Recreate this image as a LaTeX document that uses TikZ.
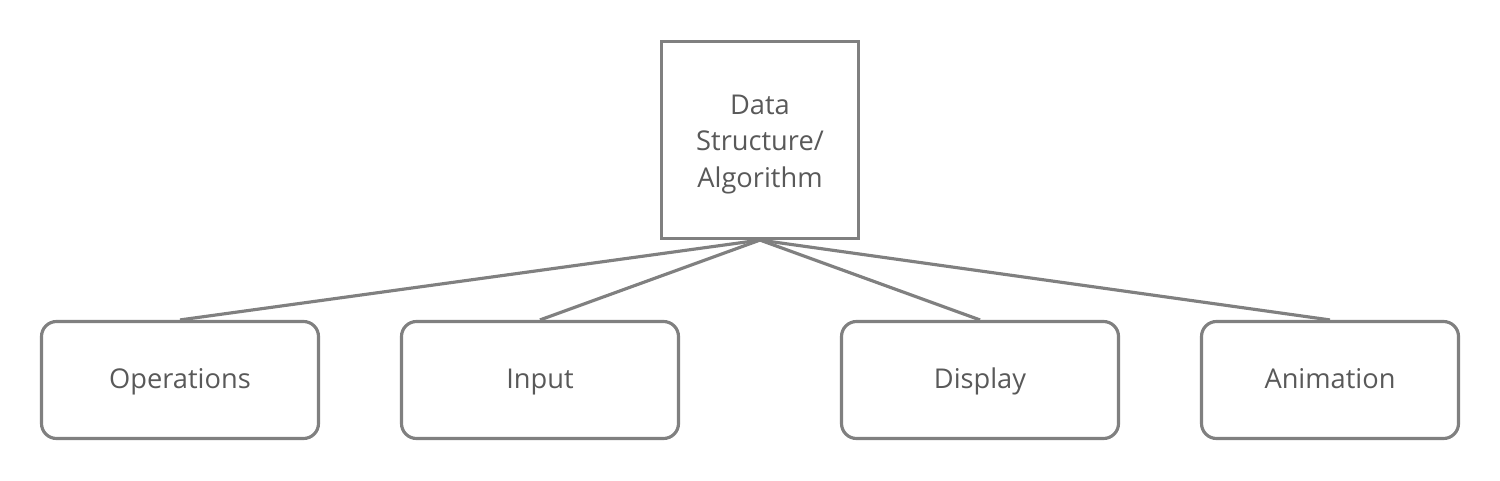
\documentclass[tikz,border=0pt]{standalone}
\usepackage{fontspec}
\setmainfont{Open Sans}
\definecolor{boxgray}{HTML}{808080}
\definecolor{textgray}{HTML}{595959}
\begin{document}
\begin{tikzpicture}[every node/.style={font=\fontsize{15.5pt}{20.8pt}\selectfont, text=textgray}]
\tikzset{
  top/.style={draw=boxgray, line width=1.8pt, minimum width=3.94cm, minimum height=3.94cm, align=center, inner sep=0pt},
  part/.style={draw=boxgray, line width=1.8pt, rounded corners=0.3cm, minimum width=5.54cm, minimum height=2.34cm, inner sep=0pt, text height=1em, text depth=0pt},
  link/.style={draw=boxgray, line width=1.8pt}
}
\useasboundingbox (0,0) rectangle (30,9.6);

% --- root ---
\node[top] (ds) at (15.2,6.8) {\rule{0pt}{16pt}Data\\Structure/\\Algorithm};

% --- parts ---
\node[part] (ops) at (3.6,2.0) {Operations};
\node[part] (inp) at (10.8,2.0) {Input};
\node[part] (dsp) at (19.6,2.0) {Display};
\node[part, minimum width=5.14cm] (ani) at (26.6,2.0) {Animation};

\draw[link] (ds.south) -- (ops.north);
\draw[link] (ds.south) -- (inp.north);
\draw[link] (ds.south) -- (dsp.north);
\draw[link] (ds.south) -- (ani.north);
\end{tikzpicture}
\end{document}
